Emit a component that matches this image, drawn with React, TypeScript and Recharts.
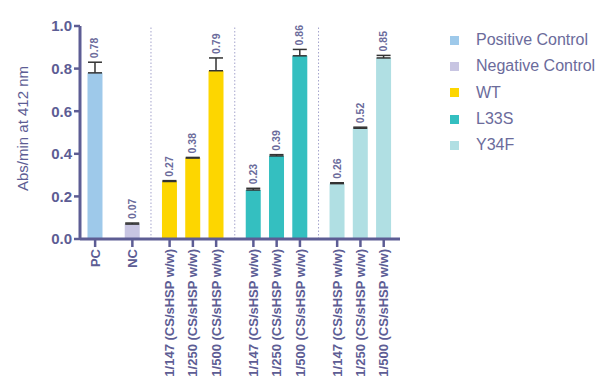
import React from "react";
import {
  Bar,
  BarChart,
  Cell,
  ErrorBar,
  LabelList,
  ReferenceLine,
  XAxis,
  YAxis,
} from "recharts";

// categories along the x axis
const CATEGORIES = [
  "PC",
  "NC",
  "1/147 (CS/sHSP w/w)",
  "1/250 (CS/sHSP w/w)",
  "1/500 (CS/sHSP w/w)",
  "1/147 (CS/sHSP w/w)",
  "1/250 (CS/sHSP w/w)",
  "1/500 (CS/sHSP w/w)",
  "1/147 (CS/sHSP w/w)",
  "1/250 (CS/sHSP w/w)",
  "1/500 (CS/sHSP w/w)",
];
const GROUP_OF = [0, 1, 2, 2, 2, 3, 3, 3, 4, 4, 4];
const GROUPS = ["Positive Control", "Negative Control", "WT", "L33S", "Y34F"];
const MEANS = [0.78, 0.07, 0.27, 0.38, 0.79, 0.23, 0.39, 0.86, 0.26, 0.52, 0.85];
const ERRORS = [0.05, 0.005, 0.004, 0.003, 0.06, 0.008, 0.006, 0.03, 0.004, 0.005, 0.012];
const Y_TICKS = [0, 0.2, 0.4, 0.6, 0.8, 1.0];

const GROUP_COLORS = ["#9ec9ea", "#c8c5e2", "#fdd600", "#34bfc0", "#b0dfe3"];
const AXIS = "#5d5d94";
const TEXT = "#6b6b9b";
const FONT = '"Liberation Sans", Arial, sans-serif';

const W = 608;
const H = 383;
const M = { top: 26, right: 208, bottom: 0, left: 0 };
const X_AXIS_H = 144;
const Y_AXIS_W = 80;
const PLOT_H = H - M.top - M.bottom - X_AXIS_H;

// place bars: step 1 inside a group, 1.6 between groups
const positions: number[] = [];
CATEGORIES.forEach((_, i) => {
  if (i === 0) positions.push(0);
  else positions.push(positions[i - 1] + (GROUP_OF[i] !== GROUP_OF[i - 1] ? 1.6 : 1));
});

const separators: number[] = [];
for (let i = 1; i < CATEGORIES.length; i++) {
  if (GROUP_OF[i] !== GROUP_OF[i - 1] && GROUP_OF[i] >= 2) {
    separators.push((positions[i] + positions[i - 1]) / 2);
  }
}

const data = CATEGORIES.map((name, i) => ({
  name,
  pos: positions[i],
  mean: MEANS[i],
  err: [0, ERRORS[i]],
}));

function XTick({ x, y, payload }: any) {
  const i = positions.indexOf(payload.value);
  return (
    <g transform={`translate(${x},${y})`}>
      <text
        transform="rotate(-90)"
        textAnchor="end"
        dy={4.6}
        fontSize={13}
        fontWeight="bold"
        fill={AXIS}
      >
        {i >= 0 ? CATEGORIES[i] : ""}
      </text>
    </g>
  );
}

function ValueLabel({ x, y, width, index, value }: any) {
  const cx = x + width / 2;
  const top = y - ERRORS[index] * PLOT_H - 4;
  return (
    <text
      transform={`translate(${cx + 3.5},${top}) rotate(-90)`}
      textAnchor="start"
      fontSize={10.5}
      fontWeight="bold"
      fill={TEXT}
    >
      {Number(value).toFixed(2)}
    </text>
  );
}

function YTitle({ viewBox }: any) {
  const cy = viewBox ? viewBox.y + viewBox.height / 2 : 130;
  return (
    <text
      transform={`translate(28,${cy - 4}) rotate(-90)`}
      textAnchor="middle"
      fontSize={15}
      fill={AXIS}
    >
      Abs/min at 412 nm
    </text>
  );
}

export default function App() {
  return (
    <div
      style={{
        position: "absolute",
        left: 0,
        top: 0,
        width: W,
        height: H,
        overflow: "hidden",
        background: "#fff",
        fontFamily: FONT,
      }}
    >
      <BarChart width={W} height={H} data={data} margin={M} style={{ fontFamily: FONT }}>
        <XAxis
          dataKey="pos"
          type="number"
          domain={[-0.65, 13.1]}
          ticks={positions}
          interval={0}
          height={X_AXIS_H}
          tick={<XTick />}
          tickSize={8}
          tickMargin={2}
          tickLine={{ stroke: AXIS, strokeWidth: 2.5 }}
          axisLine={{ stroke: AXIS, strokeWidth: 3 }}
        />
        <YAxis
          domain={[0, 1]}
          ticks={Y_TICKS}
          width={Y_AXIS_W}
          tickFormatter={(v: number) => v.toFixed(1)}
          tick={{ fontSize: 15, fontWeight: "bold", fill: AXIS }}
          tickSize={6}
          tickMargin={2}
          tickLine={{ stroke: AXIS, strokeWidth: 2.5 }}
          axisLine={{ stroke: AXIS, strokeWidth: 3 }}
          label={<YTitle />}
        />
        {separators.map((s) => (
          <ReferenceLine
            key={s}
            x={s}
            stroke="#a4a4cc"
            strokeWidth={1}
            strokeDasharray="1.5 2"
          />
        ))}
        <Bar dataKey="mean" barSize={15} isAnimationActive={false}>
          {data.map((d, i) => (
            <Cell key={i} fill={GROUP_COLORS[GROUP_OF[i]]} />
          ))}
          <ErrorBar dataKey="err" width={7} strokeWidth={1.5} stroke="#333" />
          <LabelList dataKey="mean" content={<ValueLabel />} />
        </Bar>
      </BarChart>
      <div style={{ position: "absolute", left: 450, top: 27 }}>
        {GROUPS.map((g, i) => (
          <div
            key={g}
            style={{ display: "flex", alignItems: "center", height: 26.3 }}
          >
            <div
              style={{ width: 9, height: 9, background: GROUP_COLORS[i], marginRight: 17 }}
            />
            <span style={{ fontSize: 16, color: TEXT }}>{g}</span>
          </div>
        ))}
      </div>
    </div>
  );
}
